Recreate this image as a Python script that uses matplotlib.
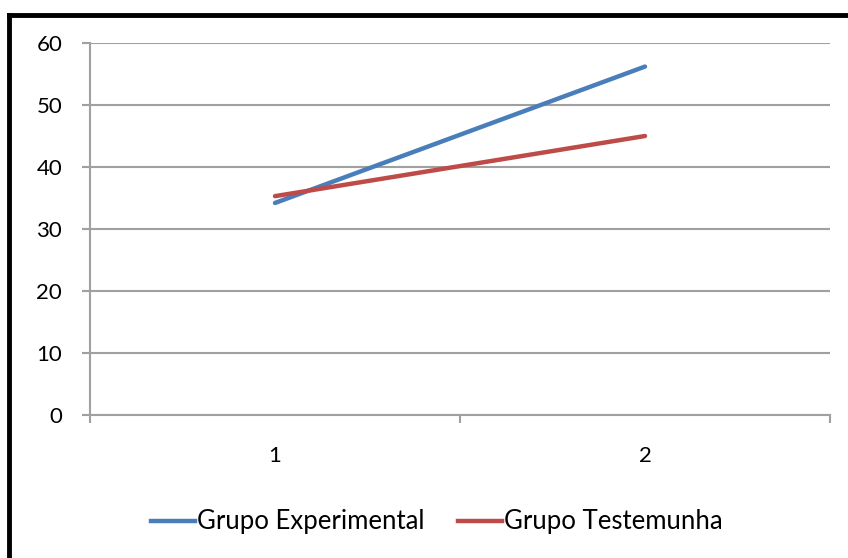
import matplotlib.pyplot as plt
from matplotlib.lines import Line2D

plt.rcParams['font.family'] = ['Lato', 'DejaVu Sans']

x_labels = ['1', '2']
experimental = [34.2, 56.2]
testemunha = [35.3, 45.0]
series_names = ['Grupo Experimental', 'Grupo Testemunha']
y_ticks = [0, 10, 20, 30, 40, 50, 60]

blue = '#4A7EBB'
red = '#BE4B48'
grid = '#A0A0A0'
fs = 16

fig = plt.figure(figsize=(8.48, 5.58), dpi=100)
ax = fig.add_axes([90 / 848, 1 - 415 / 558, 740 / 848, 372 / 558])

xs = [1, 2]
ax.plot(xs, experimental, color=blue, lw=3.2, solid_capstyle='round')
ax.plot(xs, testemunha, color=red, lw=3.2, solid_capstyle='round')

ax.set_xlim(0.5, 2.5)
ax.set_ylim(0, 60)
ax.set_yticks(y_ticks)
ax.set_yticklabels([str(v) for v in y_ticks], fontsize=fs)
ax.set_xticks(xs)
ax.set_xticklabels(x_labels, fontsize=fs)
ax.tick_params(axis='x', length=0, pad=22)
ax.tick_params(axis='y', length=6, color=grid, width=1.5, pad=14)

# category boundary ticks on x axis
ax.set_xticks([0.5, 1.5, 2.5], minor=True)
ax.tick_params(axis='x', which='minor', length=6, color=grid, width=1.5, direction='out')

ax.grid(axis='y', color=grid, lw=1.5)
ax.set_axisbelow(True)
for s in ['top', 'right']:
    ax.spines[s].set_visible(False)
ax.spines['left'].set_color(grid)
ax.spines['left'].set_linewidth(1.5)
ax.spines['bottom'].set_color(grid)
ax.spines['bottom'].set_linewidth(1.5)

handles = [Line2D([], [], color=blue, lw=3.2), Line2D([], [], color=red, lw=3.2)]
fig.legend(handles, series_names, loc='center', bbox_to_anchor=(437 / 848, 1 - 522 / 558),
           ncol=2, frameon=False, fontsize=18.5, handlelength=1.7, handletextpad=0.1,
           columnspacing=1.3)

# outer border (left and top only)
fig.add_artist(Line2D([8.5 / 848, 8.5 / 848], [0, 1 - 14.5 / 558], color='black', lw=3.5,
                      transform=fig.transFigure, solid_capstyle='projecting'))
fig.add_artist(Line2D([8.5 / 848, 1], [1 - 14.5 / 558, 1 - 14.5 / 558], color='black', lw=3.5,
                      transform=fig.transFigure, solid_capstyle='projecting'))

fig.savefig('out.png', dpi=100)
